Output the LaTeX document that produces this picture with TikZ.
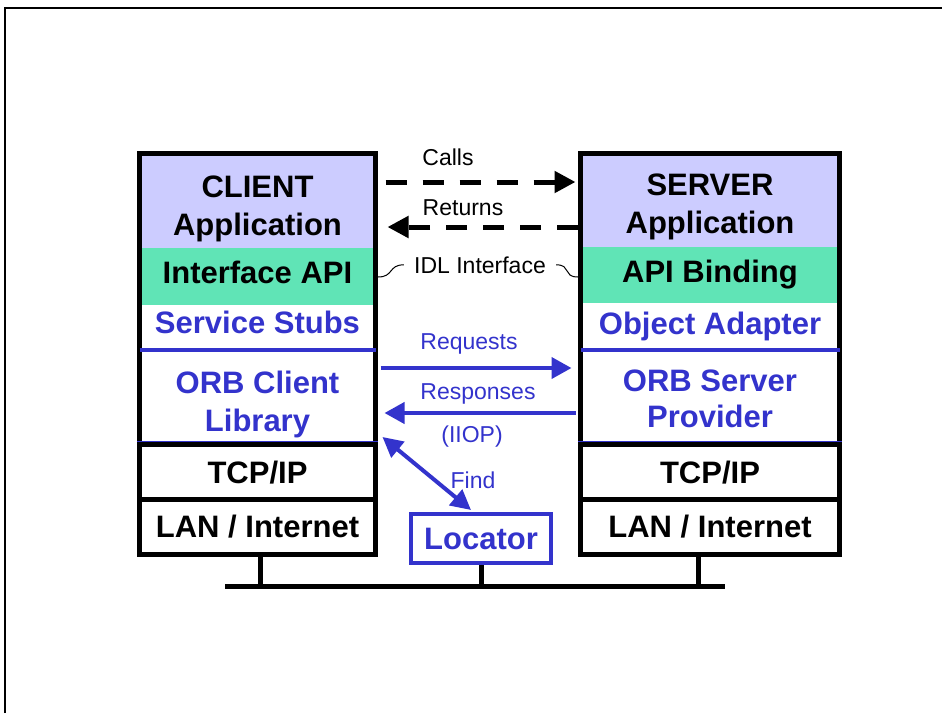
\documentclass[tikz,border=0pt]{standalone}
\usepackage{fontspec}
\setmainfont{Liberation Sans}
\usetikzlibrary{arrows.meta,positioning,calc}

\definecolor{apppurple}{RGB}{204,204,255}
\definecolor{apigreen}{RGB}{96,228,182}
\definecolor{orbblue}{RGB}{51,51,204}

\newcommand{\layerfont}{\fontsize{31}{38}\selectfont\bfseries}
\newcommand{\tagfont}{\fontsize{23}{27}\selectfont}

\begin{document}
\begin{tikzpicture}[x=1pt, y=-1pt,
    stack/.style={draw, line width=5pt, minimum height=401pt, inner sep=0pt},
    layer/.style={font=\layerfont, align=center, anchor=base, inner sep=0pt},
    orblayer/.style={layer, text=orbblue},
    tag/.style={font=\tagfont, anchor=base, inner sep=0pt},
    orbtag/.style={tag, text=orbblue},
    callarrow/.style={line width=5pt, dash pattern=on 21pt off 16pt, -{Triangle[length=21pt,width=21pt]}},
    orbarrow/.style={orbblue, line width=4pt, -{Triangle[length=20pt,width=21pt]}},
    findarrow/.style={orbblue, line width=4pt, {Triangle[length=20pt,width=20pt]}-{Triangle[length=20pt,width=20pt]}},
    divider/.style={line width=4.5pt},
    orbdivider/.style={orbblue, line width=3.5pt, shorten <=2.5pt, shorten >=2.5pt},
    wire/.style={line width=5pt},
    tilde/.style={line width=1pt}]
  \useasboundingbox (0,0) rectangle (942,713);
  % slide frame
  \draw[line width=2pt] (5,713) -- (5,8) -- (942,8);

  % layer fills
  \fill[apppurple] (139.5,153.5) rectangle (375.5,248);
  \fill[apigreen]  (139.5,248) rectangle (375.5,305);
  \fill[apppurple] (580.5,153.5) rectangle (839.5,247);
  \fill[apigreen]  (580.5,247) rectangle (839.5,303);

  % stacks
  \node[stack, minimum width=236pt] (client) at (257.5,354) {};
  \node[stack, minimum width=259pt] (server) at (710,354) {};

  % y levels
  \coordinate (orby) at (0,350);
  \coordinate (liby) at (0,441);
  \coordinate (tcpy) at (0,444.5);
  \coordinate (lany) at (0,499.5);
  \coordinate (callsy) at (0,182);
  \coordinate (returnsy) at (0,227);
  \coordinate (idly) at (0,277);
  \coordinate (reqy) at (0,368);
  \coordinate (respy) at (0,413);
  \coordinate (findy) at (0,437);

  % dividers
  \draw[orbdivider] (client.west |- orby) -- (client.east |- orby);
  \draw[orbdivider] (server.west |- orby) -- (server.east |- orby);
  \draw[orbblue, line width=1pt] (client.west |- liby) -- (client.east |- liby);
  \draw[orbblue, line width=1pt] (server.west |- liby) -- (server.east |- liby);
  \draw[divider] (client.west |- tcpy) -- (client.east |- tcpy);
  \draw[divider] (server.west |- tcpy) -- (server.east |- tcpy);
  \draw[divider] (client.west |- lany) -- (client.east |- lany);
  \draw[divider] (server.west |- lany) -- (server.east |- lany);

  % client layers
  \node[layer] (capp) at (257.5,235) {CLIENT\\Application};
  \node[layer] (capi) at (257.5,283) {Interface API};
  \node[orblayer] (cstubs) at (257.5,333) {Service Stubs};
  \node[orblayer] (corb) at (257.5,431) {ORB Client\\Library};
  \node[layer] (ctcp) at (257.5,483) {TCP/IP};
  \node[layer] (clan) at (257.5,537) {LAN / Internet};

  % server layers
  \node[layer] (sapp) at (710,233) {SERVER\\Application};
  \node[layer] (sapi) at (710,282) {API Binding};
  \node[orblayer] (sadapt) at (710,334) {Object Adapter};
  \node[orblayer] (sorb) at (710,427) {ORB Server\\[-2pt]Provider};
  \node[layer] (stcp) at (710,483) {TCP/IP};
  \node[layer] (slan) at (710,537) {LAN / Internet};

  % labels
  \node[tag] (calls) at (448,165) {Calls};
  \node[tag] (returns) at (463,215) {Returns};
  \node[tag] (idl) at (480,273) {IDL Interface};
  \node[orbtag] (requests) at (469,349) {Requests};
  \node[orbtag] (responses) at (478,399) {Responses};
  \node[orbtag] (iiop) at (472,442) {(IIOP)};
  \node[orbtag] (find) at (473,488) {Find};

  % locator
  \node[draw=orbblue, line width=4pt, fill=white, minimum width=140pt, minimum height=49pt,
        inner sep=0pt, font=\layerfont, text=orbblue] (locator) at (481,538.5) {Locator};

  % calls and returns
  \draw[callarrow, shorten <=7.5pt, shorten >=2.5pt] (client.east |- callsy) -- (server.west |- callsy);
  \draw[callarrow, shorten >=9.5pt] (server.west |- returnsy) -- (client.east |- returnsy);
  \draw[tilde] (client.east |- idly) .. controls +(16,0) and +(-16,0) .. ([xshift=-10pt]idl.west);
  \draw[tilde] ([xshift=10pt]idl.east) .. controls +(16,0) and +(-16,0) .. (server.west |- idly);

  % IIOP traffic
  \draw[orbarrow, shorten <=2.5pt, shorten >=6.5pt] (client.east |- reqy) -- (server.west |- reqy);
  \draw[orbarrow, shorten <=2.5pt, shorten >=6.5pt] (server.west |- respy) -- (client.east |- respy);
  \draw[findarrow] ([xshift=4.5pt]client.east |- findy) -- ([xshift=-10pt,yshift=2pt]locator.north);

  % network bus
  \coordinate (busL) at (225,586);
  \coordinate (busR) at (725,586);
  \draw[wire] (busL) -- (busR);
  \draw[wire] ([xshift=2.5pt]client.south) -- ([xshift=2.5pt]client.south |- busL);
  \draw[wire] ([xshift=-12pt]server.south) -- ([xshift=-12pt]server.south |- busL);
  \draw[wire] (locator.south) -- (locator.south |- busL);
\end{tikzpicture}
\end{document}
